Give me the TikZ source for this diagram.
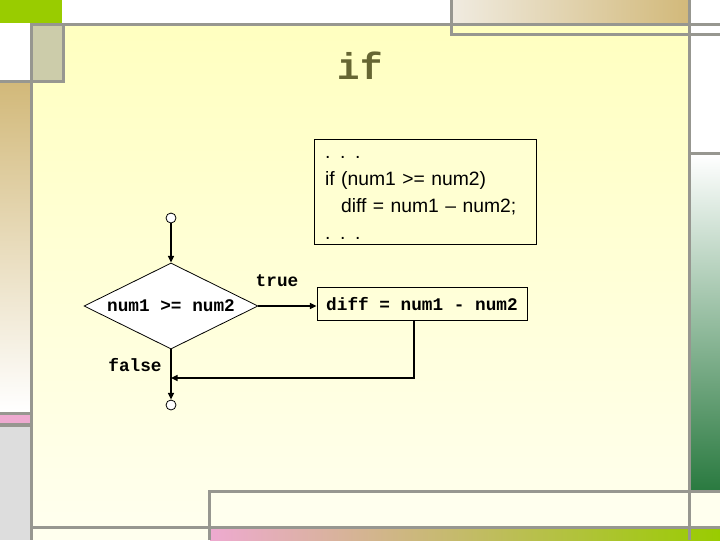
\documentclass[tikz,border=0pt]{standalone}
\usepackage{fontspec}
\setmainfont{Liberation Sans}
\setmonofont{Liberation Mono}
\usetikzlibrary{shapes.geometric,arrows.meta,calc}
\definecolor{frame}{HTML}{979790}
\definecolor{ytop}{HTML}{FFFFC0}
\definecolor{ybot}{HTML}{FFFFEE}
\definecolor{lime}{HTML}{99CC00}
\definecolor{khaki}{HTML}{CCCCAA}
\definecolor{tan}{HTML}{D2B97A}
\definecolor{pinkish}{HTML}{EEAAD0}
\definecolor{lgray}{HTML}{DDDDDD}
\definecolor{dgreen}{HTML}{2A7A40}
\definecolor{olive}{HTML}{666633}
\tikzset{
  gline/.style={draw=frame, line width=2.3pt},
  conn/.style={line width=1.1pt, -{Triangle[length=5pt,width=4.5pt]}},
  term/.style={circle, draw, line width=0.6pt, fill=white, minimum size=7.5pt, inner sep=0pt},
  mono/.style={font=\fontsize{13.3}{15}\selectfont\ttfamily\bfseries},
}
\begin{document}
\begin{tikzpicture}[x=0.75pt,y=-0.75pt]
\useasboundingbox (0,0) rectangle (720,540);
\fill[white] (0,0) rectangle (720,540);
% main area
\shade[top color=ytop, bottom color=ybot] (31,24) rectangle (690,528);
% decorations
\fill[lime] (0,0) rectangle (62,23);
\fill[khaki] (33,26) rectangle (63,81);
\shade[top color=tan, bottom color=white] (0,83) rectangle (30,412);
\fill[pinkish] (0,415) rectangle (30,423);
\fill[lgray] (0,427) rectangle (30,540);
\shade[left color={rgb,255:red,240;green,235;blue,224}, right color=tan] (452,0) rectangle (689,23);
\fill[ytop] (452,26) rectangle (689,33);
\shade[top color=white, middle color={rgb,255:red,200;green,212;blue,200}, bottom color=dgreen] (691,155) rectangle (720,490);
\fill[ybot] (691,493) rectangle (720,526);
\fill[ybot] (209,492) rectangle (689,526);
\fill[ybot] (33,529) rectangle (208,540);
\shade[left color=pinkish, right color=lime] (210,529) rectangle (720,540);
% frame lines
\draw[gline] (30,24.5) -- (720,24.5);
\draw[gline] (31.5,24.5) -- (31.5,540);
\draw[gline] (63.5,24.5) -- (63.5,81.5) -- (0,81.5);
\draw[gline] (0,413.5) -- (31.5,413.5);
\draw[gline] (0,425) -- (31.5,425);
\draw[gline] (451.5,0) -- (451.5,34.5) -- (720,34.5);
\draw[gline] (689.5,0) -- (689.5,540);
\draw[gline] (689.5,153.5) -- (720,153.5);
\draw[gline] (209.5,540) -- (209.5,491.5) -- (720,491.5);
\draw[gline] (31.5,527.5) -- (720,527.5);
% title
\node[text=olive, font=\fontsize{28}{30}\selectfont\ttfamily\bfseries] (title) at (360,66) {if};
% code box
\node[draw, line width=0.75pt, fill=ybot!40!ytop, minimum width=166.5pt, minimum height=78.75pt] (code) at (425,191.5) {};
\node[text width=153pt, inner sep=0pt, align=left,
      font=\fontsize{14.5}{20.25}\selectfont] (codetxt) at (427,198)
  {. . .\\ if (num1 >= num2)\\ \hspace*{12pt}diff = num1 – num2;\\ . . .};
% flowchart
\node[term] (start) at (171,218) {};
\node[diamond, shape aspect=2, draw, line width=0.6pt, fill=white, minimum width=130.5pt, minimum height=64.5pt,
      inner sep=0pt, mono] (cond) at (171,306) {num1 >= num2};
\node[draw, line width=0.75pt, minimum width=157.5pt, minimum height=24.75pt, inner sep=0pt, mono]
  (diff) at (422,304) {diff = num1 - num2};
\node[term] (stop) at (171,405) {};
\node[mono, anchor=base] (true) at (277,286) {true};
\node[mono, anchor=base] (false) at (135,371) {false};
\coordinate (bend) at (414,378);
\draw[conn] (start) -- (cond.north);
\draw[conn] (cond.east) -- (cond.east -| diff.west);
\draw[conn] (cond.south) -- (stop.north);
\draw[conn] (diff.south -| bend) -- (bend) -- (bend -| cond.south);
\end{tikzpicture}
\end{document}
